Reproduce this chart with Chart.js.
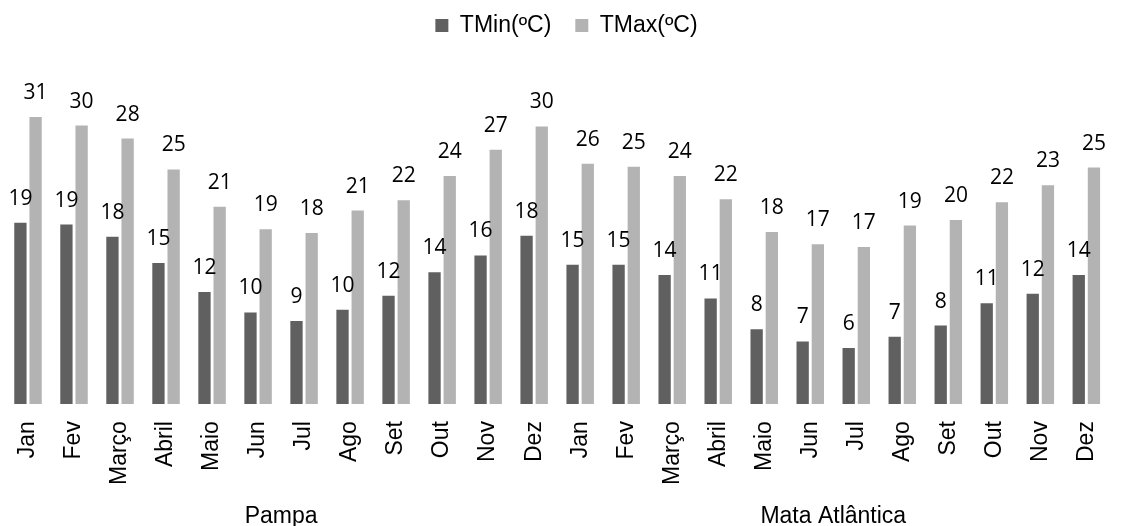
<!DOCTYPE html>
<html>
<head>
<meta charset="utf-8">
<script src="https://cdn.jsdelivr.net/npm/chart.js@4.4.0/dist/chart.umd.min.js"></script>
<style>
  html, body { margin: 0; padding: 0; background: #fff; }
  #wrap { width: 1131px; height: 526px; }
</style>
</head>
<body>
<div id="wrap"><canvas id="chart" width="1131" height="526"></canvas></div>
<script>
var months = ['Jan', 'Fev', 'Março', 'Abril', 'Maio', 'Jun', 'Jul', 'Ago', 'Set', 'Out', 'Nov', 'Dez'];
var categories = months.concat(months);
var groups = ['Pampa', 'Mata Atlântica'];

var tmin = [19.4, 19.2, 17.9, 15.1, 12.0, 9.8, 8.9, 10.1, 11.6, 14.1, 15.9, 18.0,
            14.9, 14.9, 13.8, 11.3, 8.0, 6.7, 6.0, 7.2, 8.4, 10.8, 11.8, 13.8];
var tmax = [30.7, 29.8, 28.4, 25.1, 21.1, 18.7, 18.3, 20.7, 21.8, 24.4, 27.2, 29.7,
            25.7, 25.4, 24.4, 21.9, 18.4, 17.1, 16.8, 19.1, 19.7, 21.6, 23.4, 25.3];

// values above each bar + region names under the month labels
var labelsPlugin = {
	id: 'barLabels',
	afterDatasetsDraw: function(chart) {
		var ctx = chart.ctx;
		ctx.save();
		ctx.fillStyle = '#000';
		ctx.font = '21px "Open Sans"';
		ctx.textAlign = 'center';
		ctx.textBaseline = 'alphabetic';
		chart.data.datasets.forEach(function(ds, i) {
			chart.getDatasetMeta(i).data.forEach(function(bar, j) {
				ctx.fillText(Math.round(ds.data[j]), bar.x, bar.y - 18);
			});
		});

		var x = chart.scales.x;
		ctx.font = '23px "Liberation Sans"';
		groups.forEach(function(name, g) {
			var a = x.getPixelForValue(g * 12);
			var b = x.getPixelForValue(g * 12 + 11);
			ctx.fillText(name, (a + b) / 2, 523);
		});
		ctx.restore();
	}
};

new Chart(document.getElementById('chart').getContext('2d'), {
	type: 'bar',
	data: {
		labels: categories,
		datasets: [{
			label: 'TMin(ºC)',
			data: tmin,
			backgroundColor: '#606060'
		}, {
			label: 'TMax(ºC)',
			data: tmax,
			backgroundColor: '#b3b3b3'
		}]
	},
	options: {
		responsive: false,
		animation: false,
		layout: { padding: { top: -10, left: 5, right: 3, bottom: 24 } },
		datasets: {
			bar: { categoryPercentage: 0.66, barPercentage: 0.81 }
		},
		scales: {
			x: {
				grid: { display: false, drawTicks: false },
				border: { display: false },
				ticks: {
					minRotation: 90,
					maxRotation: 90,
					padding: 17,
					color: '#000',
					font: { family: 'Liberation Sans', size: 23 }
				}
			},
			y: {
				display: false,
				min: 0,
				max: 38.2
			}
		},
		plugins: {
			legend: {
				position: 'top',
				labels: {
					boxWidth: 13,
					boxHeight: 13,
					padding: 24,
					color: '#000',
					font: { family: 'Liberation Sans', size: 23 }
				}
			},
			tooltip: { enabled: false }
		}
	},
	plugins: [labelsPlugin]
});
</script>
</body>
</html>
